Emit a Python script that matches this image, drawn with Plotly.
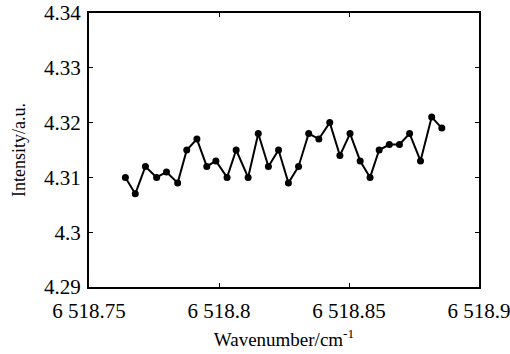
import plotly.graph_objects as go

wavenumber = [6518.7640, 6518.7678, 6518.7717, 6518.7760, 6518.7798, 6518.7841,
              6518.7876, 6518.7915, 6518.7953, 6518.7988, 6518.8031, 6518.8066,
              6518.8112, 6518.8151, 6518.8190, 6518.8229, 6518.8267, 6518.8306,
              6518.8345, 6518.8384, 6518.8426, 6518.8465, 6518.8504, 6518.8543,
              6518.8581, 6518.8616, 6518.8655, 6518.8694, 6518.8733, 6518.8775,
              6518.8818, 6518.8857]
intensity = [4.310, 4.307, 4.312, 4.310, 4.311, 4.309, 4.315, 4.317, 4.312, 4.313,
             4.310, 4.315, 4.310, 4.318, 4.312, 4.315, 4.309, 4.312, 4.318, 4.317,
             4.320, 4.314, 4.318, 4.313, 4.310, 4.315, 4.316, 4.316, 4.318, 4.313,
             4.321, 4.319]

x_tickvals = [6518.75, 6518.80, 6518.85, 6518.90]
x_ticktext = ["6 518.75", "6 518.8", "6 518.85", "6 518.9"]
y_tickvals = [4.29, 4.30, 4.31, 4.32, 4.33, 4.34]
y_ticktext = ["4.29", "4.3", "4.31", "4.32", "4.33", "4.34"]

font_family = "Liberation Serif, Times New Roman, serif"

fig = go.Figure()
fig.add_trace(go.Scatter(
    x=wavenumber, y=intensity, mode="lines+markers",
    line=dict(color="black", width=2),
    marker=dict(color="black", size=7),
    showlegend=False,
))

axis_common = dict(
    showgrid=False, zeroline=False, showline=True, linecolor="black", linewidth=2,
    mirror="ticks", ticks="inside", ticklen=4, tickwidth=1, tickcolor="black",
    automargin=False, ticklabeloverflow="allow",
)

fig.update_layout(
    width=510, height=354,
    margin=dict(l=89, r=31, t=13, b=67),
    paper_bgcolor="white", plot_bgcolor="white",
    font=dict(family=font_family, size=20, color="black"),
    xaxis=dict(range=[6518.75, 6518.90], tickvals=x_tickvals, ticktext=x_ticktext,
               tickfont=dict(family=font_family, size=21, color="black"),
               ticklabelstandoff=4,
               title=dict(text="Wavenumber/cm<sup>-1</sup>", standoff=10,
                          font=dict(family=font_family, size=19)),
               **axis_common),
    yaxis=dict(range=[4.29, 4.34], tickvals=y_tickvals, ticktext=y_ticktext,
               tickfont=dict(family=font_family, size=21, color="black"),
               ticklabelstandoff=2,
               title=dict(text="Intensity/a.u.", standoff=14,
                          font=dict(family=font_family, size=18)),
               **axis_common),
)

fig.write_html("out.html")
